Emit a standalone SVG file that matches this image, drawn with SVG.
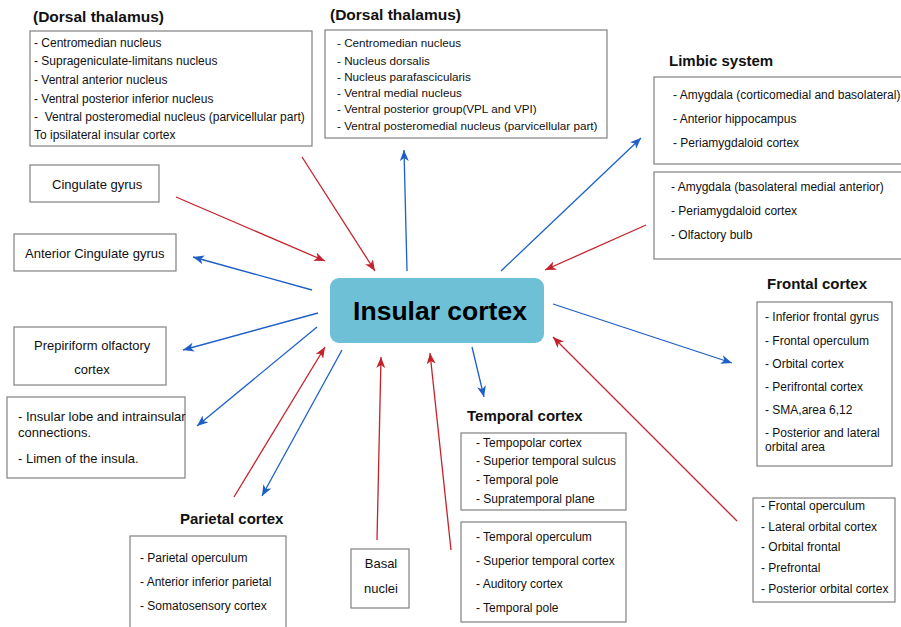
<svg xmlns="http://www.w3.org/2000/svg" width="901" height="627" viewBox="0 0 901 627">
<defs>
<style>
.box{fill:#fff;stroke:#808080;stroke-width:1.2}
.t{font-family:"Liberation Sans",Arial,sans-serif;font-size:12px;fill:#111}
.t13{font-family:"Liberation Sans",Arial,sans-serif;font-size:13px;fill:#111}
.h{font-family:"Liberation Sans",Arial,sans-serif;font-size:15px;font-weight:bold;fill:#111}
.red{stroke:#c4222b;stroke-width:1.3;fill:none;marker-end:url(#ar)}
.blue{stroke:#1d5fc6;stroke-width:1.3;fill:none;marker-end:url(#ab)}
</style>
<marker id="ar" markerUnits="userSpaceOnUse" markerWidth="12" markerHeight="10" refX="11" refY="4.5" orient="auto"><path d="M0,0 L11,4.5 L0,9 L3,4.5 z" fill="#c4222b"/></marker>
<marker id="ab" markerUnits="userSpaceOnUse" markerWidth="12" markerHeight="10" refX="11" refY="4.5" orient="auto"><path d="M0,0 L11,4.5 L0,9 L3,4.5 z" fill="#1d5fc6"/></marker>
</defs>
<rect width="901" height="627" fill="#fff"/>

<g id="connectors">
<line class="red" x1="302" y1="157" x2="375" y2="271"/>
<line class="blue" x1="407" y1="271" x2="404" y2="150"/>
<line class="blue" x1="501" y1="271" x2="641" y2="138"/>
<line class="red" x1="646" y1="225" x2="545" y2="270"/>
<line class="red" x1="176" y1="197" x2="325" y2="261"/>
<line class="blue" x1="312" y1="290" x2="193" y2="257"/>
<line class="blue" x1="318" y1="313" x2="183" y2="350"/>
<line class="blue" x1="317" y1="327" x2="197" y2="426"/>
<line class="red" x1="234" y1="497" x2="325" y2="347"/>
<line class="blue" x1="342" y1="350" x2="262" y2="496"/>
<line class="red" x1="377" y1="540" x2="381" y2="357"/>
<line class="red" x1="451" y1="550" x2="430" y2="353"/>
<line class="blue" x1="472" y1="347" x2="484" y2="397"/>
<line class="blue" x1="553" y1="304" x2="732" y2="363"/>
<line class="red" x1="737" y1="521" x2="553" y2="337"/>
</g>

<g id="insular-cortex">
<rect x="330" y="278" width="214" height="65" rx="9" fill="#6ec0d6"/>
<text x="440" y="320" text-anchor="middle" font-family="'Liberation Sans',Arial,sans-serif" font-size="26.5" font-weight="bold" fill="#000">Insular cortex</text>
</g>

<g id="dorsal-thalamus-1">
<text class="h" x="33" y="22" style="font-size:15.5px">(Dorsal thalamus)</text>
<rect class="box" x="30" y="31" width="282" height="115"/>
<text class="t" x="34" y="47">- Centromedian nucleus</text>
<text class="t" x="34" y="65">- Suprageniculate-limitans nucleus</text>
<text class="t" x="34" y="84">- Ventral anterior nucleus</text>
<text class="t" x="34" y="103">- Ventral posterior inferior nucleus</text>
<text class="t" x="34" y="121" xml:space="preserve">-  Ventral posteromedial nucleus (parvicellular part)</text>
<text class="t" x="34" y="139">To ipsilateral insular cortex</text>
</g>

<g id="dorsal-thalamus-2">
<text class="h" x="330" y="20" style="font-size:15.5px">(Dorsal thalamus)</text>
<rect class="box" x="325" y="30" width="282" height="108"/>
<text class="t" x="337" y="47" style="font-size:11.7px">- Centromedian nucleus</text>
<text class="t" x="337" y="65" style="font-size:11.7px">- Nucleus dorsalis</text>
<text class="t" x="337" y="81" style="font-size:11.7px">- Nucleus parafascicularis</text>
<text class="t" x="337" y="97" style="font-size:11.7px">- Ventral medial nucleus</text>
<text class="t" x="337" y="113" style="font-size:11.7px">- Ventral posterior group(VPL and VPI)</text>
<text class="t" x="337" y="130" style="font-size:11.7px">- Ventral posteromedial nucleus (parvicellular part)</text>
</g>

<g id="limbic-system-1">
<text class="h" x="669" y="66">Limbic system</text>
<rect class="box" x="654" y="77" width="260" height="87"/>
<text class="t" x="673" y="99">- Amygdala (corticomedial and basolateral)</text>
<text class="t" x="673" y="123">- Anterior hippocampus</text>
<text class="t" x="673" y="147">- Periamygdaloid cortex</text>
</g>

<g id="limbic-system-2">
<rect class="box" x="654" y="172" width="260" height="87"/>
<text class="t" x="671" y="191">- Amygdala (basolateral medial anterior)</text>
<text class="t" x="671" y="215">- Periamygdaloid cortex</text>
<text class="t" x="671" y="239">- Olfactory bulb</text>
</g>

<g id="cingulate-gyrus">
<rect class="box" x="30" y="165" width="129" height="37"/>
<text class="t13" x="52" y="189">Cingulate gyrus</text>
</g>

<g id="anterior-cingulate-gyrus">
<rect class="box" x="14" y="234" width="162" height="37"/>
<text class="t13" x="25" y="258">Anterior Cingulate gyrus</text>
</g>

<g id="prepiriform-olfactory-cortex">
<rect class="box" x="14" y="327" width="152" height="58"/>
<text class="t13" x="34" y="350">Prepiriform olfactory</text>
<text class="t13" x="92" y="374" text-anchor="middle">cortex</text>
</g>

<g id="insular-lobe">
<rect class="box" x="7" y="397" width="178" height="81"/>
<text class="t13" x="18" y="421">- Insular lobe and intrainsular</text>
<text class="t13" x="18" y="437">connections.</text>
<text class="t13" x="18" y="463">- Limen of the insula.</text>
</g>

<g id="parietal-cortex">
<text class="h" x="180" y="524">Parietal cortex</text>
<rect class="box" x="130" y="536" width="156" height="100"/>
<text class="t" x="140" y="562">- Parietal operculum</text>
<text class="t" x="140" y="586">- Anterior inferior parietal</text>
<text class="t" x="140" y="610">- Somatosensory cortex</text>
</g>

<g id="basal-nuclei">
<rect class="box" x="351" y="549" width="58" height="59"/>
<text class="t13" x="381" y="568" text-anchor="middle">Basal</text>
<text class="t13" x="381" y="593" text-anchor="middle">nuclei</text>
</g>

<g id="temporal-cortex-1">
<text class="h" x="467" y="421">Temporal cortex</text>
<rect class="box" x="461" y="433" width="165" height="77"/>
<text class="t" x="476" y="447">- Tempopolar cortex</text>
<text class="t" x="476" y="465">- Superior temporal sulcus</text>
<text class="t" x="476" y="484">- Temporal pole</text>
<text class="t" x="476" y="503">- Supratemporal plane</text>
</g>

<g id="temporal-cortex-2">
<rect class="box" x="461" y="522" width="165" height="100"/>
<text class="t" x="476" y="541">- Temporal operculum</text>
<text class="t" x="476" y="565">- Superior temporal cortex</text>
<text class="t" x="476" y="588">- Auditory cortex</text>
<text class="t" x="476" y="612">- Temporal pole</text>
</g>

<g id="frontal-cortex-1">
<text class="h" x="767" y="289">Frontal cortex</text>
<rect class="box" x="757" y="302" width="135" height="164"/>
<text class="t" x="765" y="321">- Inferior frontal gyrus</text>
<text class="t" x="765" y="345">- Frontal operculum</text>
<text class="t" x="765" y="368">- Orbital cortex</text>
<text class="t" x="765" y="391">- Perifrontal cortex</text>
<text class="t" x="765" y="414">- SMA,area 6,12</text>
<text class="t" x="765" y="437">- Posterior and lateral</text>
<text class="t" x="765" y="451">orbital area</text>
</g>

<g id="frontal-cortex-2">
<rect class="box" x="753" y="498" width="142" height="104"/>
<text class="t" x="761" y="510">- Frontal operculum</text>
<text class="t" x="761" y="531">- Lateral orbital cortex</text>
<text class="t" x="761" y="551">- Orbital frontal</text>
<text class="t" x="761" y="572">- Prefrontal</text>
<text class="t" x="761" y="593">- Posterior orbital cortex</text>
</g>
</svg>
